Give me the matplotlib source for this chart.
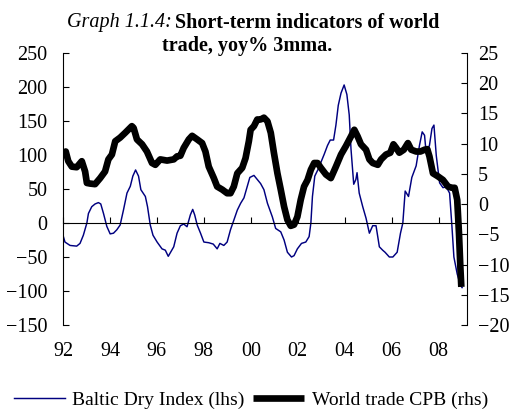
import matplotlib
matplotlib.use("Agg")
import matplotlib.pyplot as plt
import numpy as np

plt.rcParams['font.family'] = ['Liberation Serif', 'DejaVu Serif']

# months since Jan 1992
bdi_month = [0, 1.0, 3.6, 7.0, 8.7, 10.4, 12.2, 13.0, 14.7, 16.4, 18.1, 19.3, 20.7, 22.4,
             24.1, 25.8, 27.5, 29.2, 30.9, 32.7, 34.4, 35.7, 37.1, 38.6, 39.8, 42.1, 43.2,
             44.6, 46.0, 48.1, 50.6, 52.3, 53.8, 56.6, 58.3, 60.0, 61.7, 63.4, 65.1, 66.3,
             67.3, 68.6, 70.3, 72.0, 74.5, 76.8, 78.8, 80.2, 82.2, 83.9, 85.6, 87.3, 89.1,
             90.8, 92.5, 94.2, 95.5, 97.6, 99.3, 101.0, 102.7, 104.5, 107.0, 108.7, 111.3,
             113.0, 114.7, 116.8, 118.1, 119.8, 121.9, 124.1, 125.8, 126.7, 127.5, 128.7,
             130.4, 131.8, 133.5, 135.2, 136.6, 138.3, 139.5, 140.7, 142.1, 143.7, 145.1,
             146.3, 147.2, 148.6, 149.7, 150.3, 151.4, 153.2, 154.9, 156.6, 158.3, 160.0,
             161.7, 163.4, 164.6, 166.8, 168.6, 170.8, 172.5, 173.7, 174.9, 176.6, 178.3,
             180.5, 182.2, 183.6, 184.8, 185.6, 187.3, 188.6, 189.6, 190.8, 192.5, 194.2,
             195.9, 197.6, 198.8, 199.8, 201.5, 203.2, 204.0]
bdi = [-18, -28, -33, -34, -30, -18, 0, 14, 24, 28, 30, 28, 14, -5,
       -16, -15, -10, -3, 19, 44, 54, 69, 78, 69, 49, 39, 24,
       -3, -18, -28, -38, -40, -49, -35, -15, -4, -1.5, -5.5, 12, 20,
       12, -3, -15, -28, -29, -31, -38, -30, -33, -28, -10, 4, 19,
       29, 37, 54, 67, 70, 64, 58, 49, 29, 9, -8, -13,
       -25, -43, -50, -48, -38, -30, -28, -20, 0, 39, 69,
       79, 89, 101, 114, 122, 122, 144, 173, 191, 203, 189,
       159, 109, 57, 64, 74, 44, 24, 7, -15, -4, -4,
       -35, -40, -43, -50, -50, -43, -15, 0, 47, 39, 67,
       84, 114, 134, 129, 104, 114, 139, 144, 99, 59, 52,
       53, 44, -5, -50, -75, -92, -95]

trade_month = [0.2, 1.4, 2.7, 4.5, 7.0, 9.6, 11.3, 12.2, 13.8, 16.4, 19.0, 21.5, 23.2, 25.0,
               26.7, 29.2, 31.8, 35.2, 36.1, 37.8, 40.4, 42.9, 45.5, 47.2, 49.7, 53.2, 56.6,
               58.3, 60.0, 61.7, 64.3, 66.0, 68.6, 71.1, 72.8, 74.5, 77.1, 78.8, 81.4, 83.9,
               85.6, 87.3, 89.1, 91.6, 93.3, 95.0, 95.9, 97.6, 99.3, 101.0, 102.7, 104.5,
               106.2, 107.8, 109.6, 111.3, 113.0, 114.7, 116.4, 118.1, 119.8, 121.5, 123.2,
               125.0, 126.7, 128.4, 130.1, 131.8, 134.4, 136.9, 139.5, 142.1, 144.6, 147.2,
               148.9, 150.6, 152.3, 154.9, 156.6, 158.3, 160.9, 162.6, 165.1, 167.3, 168.9,
               170.3, 171.9, 174.2, 176.3, 178.0, 180.5, 182.7, 184.8, 186.2, 187.3, 189.1,
               191.6, 194.2, 196.8, 198.8, 200.2, 201.5, 202.4, 203.1, 203.6]
trade = [8.2, 8.7, 7.1, 6.2, 6.1, 7.1, 5.4, 3.5, 3.4, 3.3, 4.3, 5.4, 7.4, 8.2,
         10.4, 11.0, 11.8, 12.9, 12.6, 10.7, 9.9, 8.7, 6.8, 6.5, 7.4, 7.2, 7.4,
         7.9, 8.0, 9.3, 10.7, 11.3, 10.7, 10.1, 8.7, 6.2, 4.3, 2.9, 2.4, 1.8,
         1.8, 2.9, 5.1, 6.0, 7.6, 10.4, 12.3, 12.9, 14.0, 14.0, 14.3, 13.7,
         11.8, 8.5, 5.1, 2.4, -0.4, -2.6, -3.6, -3.4, -2.1, 0.7, 2.9,
         4.0, 5.7, 6.8, 6.8, 6.0, 4.9, 4.3, 6.2, 8.2, 9.6, 11.2,
         12.3, 11.2, 9.9, 9.0, 7.4, 6.8, 6.5, 7.4, 8.2, 8.5, 9.9,
         9.3, 8.5, 9.0, 10.1, 9.0, 8.7, 8.7, 9.0, 9.1, 7.9, 5.1,
         4.6, 4.0, 2.9, 2.7, 2.7, 0.7, -4.8, -10.4, -13.7]

year_ticks = [0, 24, 48, 72, 96, 120, 144, 168, 192]
year_labels = ['92', '94', '96', '98', '00', '02', '04', '06', '08']

fig = plt.figure(figsize=(5.11, 4.17), dpi=100)
ax = fig.add_axes([63 / 511, 1 - 325 / 417, 404 / 511, 272 / 417])
ax2 = ax.twinx()

l1, = ax.plot(bdi_month, bdi, color='#000080', lw=1.05, label='Baltic Dry Index (lhs)')
l2, = ax2.plot(trade_month, trade, color='black', lw=4.8, solid_capstyle='butt',
               label='World trade CPB (rhs)')

ax.set_xlim(0, 206.5)
ax.set_ylim(-150, 250)
ax.set_yticks(np.arange(-150, 251, 50))
ax2.set_ylim(-20, 25)
ax2.set_yticks(np.arange(-20, 26, 5))

ax.set_xticks(year_ticks)
ax.set_xticklabels(year_labels)

for s in ['top', 'right']:
    ax.spines[s].set_visible(False)
ax.spines['bottom'].set_position(('data', 0))
ax.spines['bottom'].set_linewidth(0.8)
ax.spines['left'].set_linewidth(0.8)
for s in ['top', 'bottom', 'left']:
    ax2.spines[s].set_visible(False)
ax2.spines['right'].set_linewidth(0.8)

ax.tick_params(axis='x', direction='in', length=4, width=0.8, pad=86, labelsize=14.5)
ax.tick_params(axis='y', direction='in', length=4, width=0.8, pad=11, labelsize=14.5)
ax2.tick_params(axis='y', direction='in', length=4, width=0.8, pad=8, labelsize=14.5)

fig.text(67 / 511, 1 - 23 / 417, 'Graph 1.1.4:', fontsize=14.5, style='italic',
         ha='left', va='center')
fig.text(175 / 511, 1 - 23 / 417, 'Short-term indicators of world', fontsize=14.5,
         fontweight='bold', ha='left', va='center')
fig.text(247 / 511, 1 - 46 / 417, 'trade, yoy% 3mma.', fontsize=14.5,
         fontweight='bold', ha='center', va='center')

fig.legend(handles=[l1, l2], loc='center', bbox_to_anchor=(251 / 511, 1 - 400 / 417),
           ncol=2, frameon=False, fontsize=14, handlelength=2.6, handletextpad=0.4,
           columnspacing=0.45, borderaxespad=0)

fig.savefig('out.png', dpi=100)
